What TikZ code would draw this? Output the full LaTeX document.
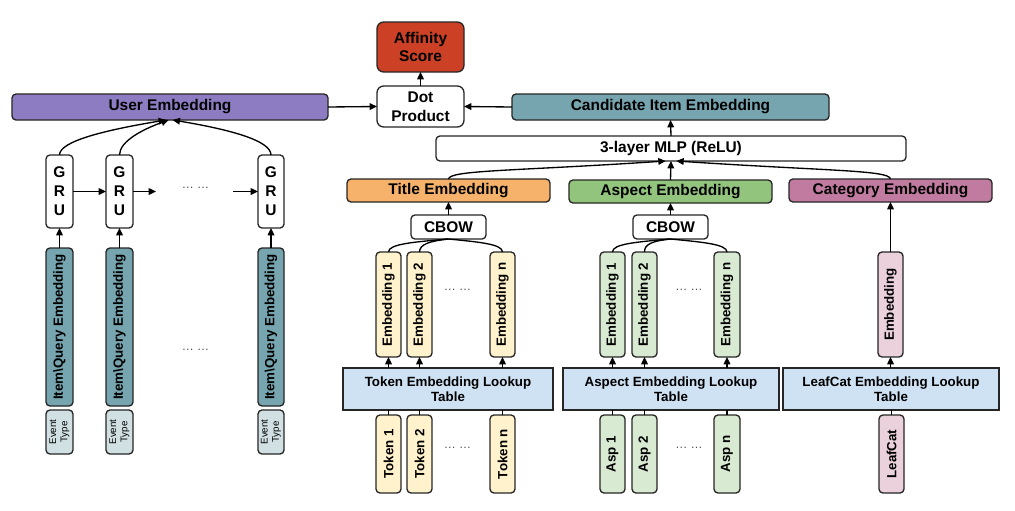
\documentclass[tikz,border=0pt]{standalone}
\usepackage{fontspec}
\setmainfont{Liberation Sans}
\usepackage{graphicx}
\usetikzlibrary{arrows.meta}
\definecolor{cpurple}{HTML}{8E7CC3}
\definecolor{cred}{HTML}{CC4125}
\definecolor{cteal}{HTML}{76A5AF}
\definecolor{corange}{HTML}{F6B26B}
\definecolor{cgreen}{HTML}{93C47D}
\definecolor{cmagenta}{HTML}{C27BA0}
\definecolor{ctable}{HTML}{CFE2F3}
\definecolor{cyellow}{HTML}{FFF2CC}
\definecolor{clgreen}{HTML}{D9EAD3}
\definecolor{clpink}{HTML}{EAD1DC}
\definecolor{cevent}{HTML}{D0E0E3}
\definecolor{bordc}{HTML}{262626}
\newcommand\mkbox[7]{\node[#6, minimum width={(#4-#2)*0.75pt}, minimum height={(#5-#3)*0.75pt}] (#1) at ({(#2+#4)/2},{(#3+#5)/2}) {#7};}
\newcommand\vt[1]{\rotatebox{90}{#1}}
\tikzset{
  box/.style={draw=bordc, line width=1pt, rounded corners=3pt, inner sep=0pt, outer sep=0pt, align=center, text=black},
  big/.style={font=\fontsize{11.6}{14.2}\selectfont\bfseries},
  mid/.style={font=\fontsize{10}{12}\selectfont\bfseries},
  small/.style={font=\fontsize{7.3}{8.4}\selectfont},
  lookupbox/.style={draw=bordc, line width=1pt, fill=ctable, inner sep=0pt, outer sep=0pt, align=center, text=black, font=\fontsize{10}{11.4}\selectfont\bfseries},
  conn/.style={draw=black, line width=1pt},
  arr/.style={conn, -{Triangle[length=5.5pt,width=5pt]}},
  dotsnode/.style={font=\fontsize{9}{11}\selectfont, text=black!70, inner sep=0pt}
}
\begin{document}
\begin{tikzpicture}[x=0.75pt,y=-0.75pt]
\fill[white] (0,0) rectangle (1015,511);
\useasboundingbox (0,0) rectangle (1015,511);

% top row
\mkbox{user}{12}{94}{328}{120}{box,big,fill=cpurple}{User Embedding}
\mkbox{aff}{377}{22}{464}{72}{box,big,fill=cred,rounded corners=5pt}{Affinity\\Score}
\mkbox{dot}{377}{86}{464}{127}{box,big,fill=white,rounded corners=5pt}{Dot\\Product}
\mkbox{cand}{512}{94}{829}{120}{box,big,fill=cteal}{Candidate Item Embedding}
\mkbox{mlp}{436}{136}{906}{161}{box,big,fill=white}{3-layer MLP (ReLU)}

% second row
\mkbox{title}{347}{179}{550}{202}{box,big,fill=corange}{Title Embedding}
\mkbox{aspect}{569}{180}{772}{203}{box,big,fill=cgreen}{Aspect Embedding}
\mkbox{cat}{789}{179}{992}{202}{box,big,fill=cmagenta}{Category Embedding}
\mkbox{cbowa}{411}{215}{486}{239}{box,big,fill=white}{CBOW}
\mkbox{cbowb}{633}{215}{708}{239}{box,big,fill=white}{CBOW}

% embeddings
\mkbox{te1}{376}{252}{401}{357}{box,mid,fill=cyellow}{\vt{Embedding 1}}
\mkbox{te2}{407}{252}{432}{357}{box,mid,fill=cyellow}{\vt{Embedding 2}}
\mkbox{ten}{490}{252}{515}{357}{box,mid,fill=cyellow}{\vt{Embedding n}}
\mkbox{ae1}{600}{252}{625}{357}{box,mid,fill=clgreen}{\vt{Embedding 1}}
\mkbox{ae2}{632}{252}{657}{357}{box,mid,fill=clgreen}{\vt{Embedding 2}}
\mkbox{aen}{714}{252}{740}{357}{box,mid,fill=clgreen}{\vt{Embedding n}}
\mkbox{pe}{878}{252}{903}{357}{box,mid,fill=clpink}{\vt{Embedding}}

% lookup tables
\mkbox{tabt}{343}{368}{553}{410}{lookupbox}{Token Embedding Lookup\\Table}
\mkbox{taba}{563}{368}{779}{410}{lookupbox}{Aspect Embedding Lookup\\Table}
\mkbox{tabl}{783}{368}{999}{410}{lookupbox}{LeafCat Embedding Lookup\\Table}

% inputs
\mkbox{tk1}{376}{415}{401}{493}{box,mid,fill=cyellow}{\vt{Token 1}}
\mkbox{tk2}{407}{415}{432}{493}{box,mid,fill=cyellow}{\vt{Token 2}}
\mkbox{tkn}{490}{415}{515}{493}{box,mid,fill=cyellow}{\vt{Token n}}
\mkbox{as1}{600}{415}{625}{493}{box,mid,fill=clgreen}{\vt{Asp 1}}
\mkbox{as2}{632}{415}{657}{493}{box,mid,fill=clgreen}{\vt{Asp 2}}
\mkbox{asn}{714}{415}{740}{493}{box,mid,fill=clgreen}{\vt{Asp n}}
\mkbox{leaf}{879}{415}{904}{493}{box,mid,fill=clpink}{\vt{LeafCat}}

% left: GRU
\mkbox{gru1}{46}{155}{73}{228}{box,big,fill=white}{G\\R\\U}
\mkbox{gru2}{106}{155}{133}{228}{box,big,fill=white}{G\\R\\U}
\mkbox{gru3}{258}{155}{284}{228}{box,big,fill=white}{G\\R\\U}
\mkbox{iq1}{46}{248}{73}{406}{box,mid,fill=cteal}{\vt{Item\textbackslash Query Embedding}}
\mkbox{iq2}{106}{248}{133}{406}{box,mid,fill=cteal}{\vt{Item\textbackslash Query Embedding}}
\mkbox{iq3}{258}{248}{284}{406}{box,mid,fill=cteal}{\vt{Item\textbackslash Query Embedding}}
\mkbox{ev1}{46}{410}{73}{454}{box,small,fill=cevent}{\vt{\begin{tabular}{@{}c@{}}Event\\Type\end{tabular}}}
\mkbox{ev2}{106}{410}{133}{454}{box,small,fill=cevent}{\vt{\begin{tabular}{@{}c@{}}Event\\Type\end{tabular}}}
\mkbox{ev3}{258}{410}{284}{454}{box,small,fill=cevent}{\vt{\begin{tabular}{@{}c@{}}Event\\Type\end{tabular}}}

% dots
\node[dotsnode] (d1) at (195.5,188) {… …};
\node[dotsnode] (d2) at (195.5,350) {… …};
\node[dotsnode] (d3) at (457.5,290) {… …};
\node[dotsnode] (d4) at (457.5,448) {… …};
\node[dotsnode] (d5) at (689,290) {… …};
\node[dotsnode] (d6) at (689,448) {… …};

\coordinate (g2end) at (156,191.5);
\coordinate (g3start) at (233,191.5);

% connectors: top
\draw[arr] (user.east) -- (dot.west);
\draw[arr] (cand.west) -- (dot.east);
\draw[arr] (dot.north) -- (aff.south);
\draw[arr] (mlp.north) -- (cand.south);
\draw[arr] (title.north) .. controls +(1,-9) and +(-150,10) .. ([xshift=-4pt]mlp.south);
\draw[arr] (aspect.north) -- (mlp.south);
\draw[arr] (cat.north) .. controls +(-1,-9) and +(150,10) .. ([xshift=4pt]mlp.south);
\draw[arr] (cbowa.north) -- (title.south);
\draw[arr] (cbowb.north) -- (aspect.south);
\draw[arr] (pe.north) -- (cat.south);

% embeddings to CBOW
\draw[conn] (cbowa.south) .. controls +(-35,3) and +(0,-8) .. (te1.north);
\draw[conn] (cbowa.south) .. controls +(-18,2) and +(0,-8) .. (te2.north);
\draw[conn] (cbowa.south) .. controls +(30,3) and +(0,-8) .. (ten.north);
\draw[conn] (cbowb.south) .. controls +(-35,3) and +(0,-8) .. (ae1.north);
\draw[conn] (cbowb.south) .. controls +(-18,2) and +(0,-8) .. (ae2.north);
\draw[conn] (cbowb.south) .. controls +(30,3) and +(0,-8) .. (aen.north);

% tables to embeddings
\foreach \e/\t in {te1/tabt,te2/tabt,ten/tabt,ae1/taba,ae2/taba,aen/taba,pe/tabl}{
  \draw[arr] (\t.north -| \e) -- (\e.south);
}
\foreach \e/\t in {tk1/tabt,tk2/tabt,tkn/tabt,as1/taba,as2/taba,asn/taba,leaf/tabl}{
  \draw[conn] (\e.north) -- (\t.south -| \e);
}

% GRU chain
\draw[arr] (gru1.east) -- (gru2.west);
\draw[arr] (gru2.east) -- (g2end);
\draw[arr] (g3start) -- (gru3.west);
\draw[arr] (iq1.north) -- (gru1.south);
\draw[arr] (iq2.north) -- (gru2.south);
\draw[arr] (iq3.north) -- (gru3.south);
\draw[arr] (gru1.north) .. controls +(0,-14) and +(-60,10) .. ([xshift=-3pt]user.south);
\draw[arr] (gru2.north) .. controls +(0,-14) and +(-25,9) .. ([xshift=-1pt]user.south);
\draw[arr] (gru3.north) .. controls +(0,-14) and +(60,10) .. ([xshift=2pt]user.south);
\end{tikzpicture}
\end{document}
